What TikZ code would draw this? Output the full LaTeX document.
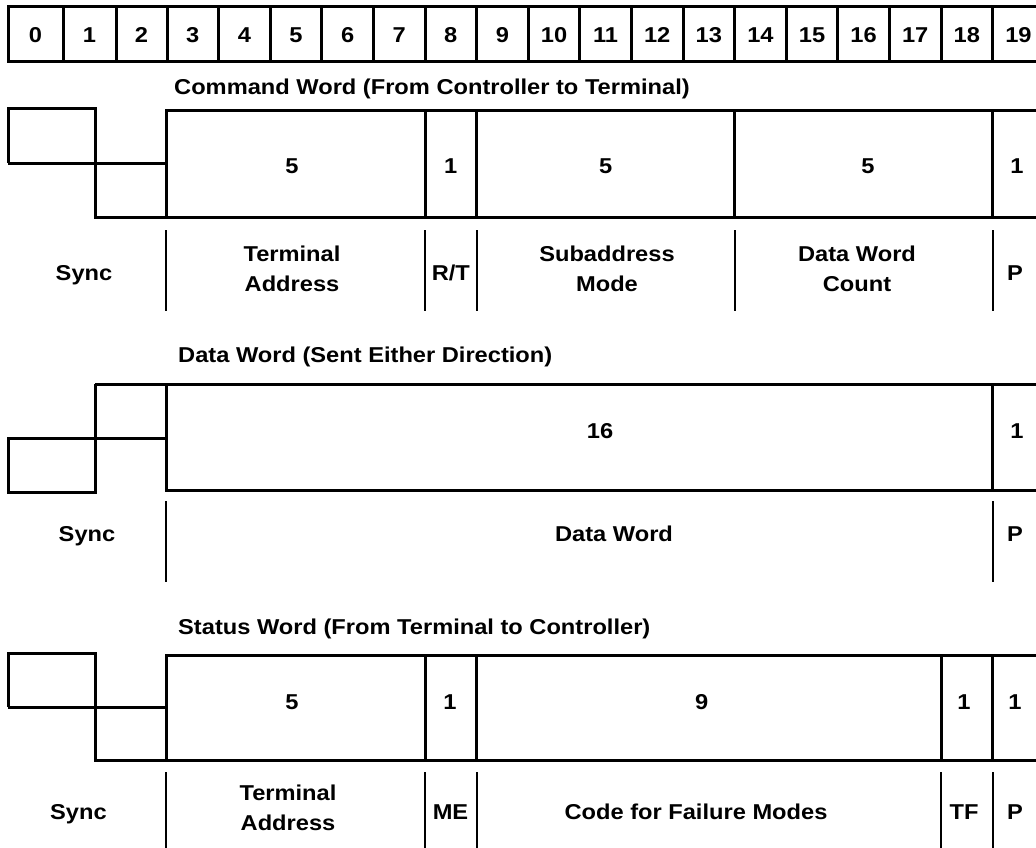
\documentclass[tikz,border=0pt]{standalone}
\usepackage{fontspec}
\newfontfamily\wordfont{Liberation Sans}[FakeStretch=1.1]
\usepackage{tikz}

\tikzstyle{cell} = [line width=3pt]
\tikzstyle{wave} = [line width=3pt]
\tikzstyle{sep} = [line width=2.2pt]
\tikzstyle{txt} = [inner sep=0pt, font=\wordfont\bfseries\fontsize{21.5}{30}\selectfont]
\tikzstyle{bit} = [txt, anchor=base]
\tikzstyle{title} = [txt, anchor=base west]
\tikzstyle{field} = [txt, anchor=center, align=center]

\begin{document}
\begin{tikzpicture}[x=1pt,y=-1pt]
\useasboundingbox (0,0) rectangle (1036,848);

% bit numbers
\draw [cell] (8,7) rectangle (1044,62);
\foreach \x in {63,116,167,218.6,270.2,321.8,373.4,425,476.6,528.2,579.8,631.4,683,734.6,786.2,837.8,889.4,941,992.6}
  \draw [cell] (\x,7) -- (\x,62);
\foreach \c [count=\n from 0] in {35.5,89.5,141.5,192.8,244.4,296,347.6,399.2,450.8,502.4,554,605.6,657.2,708.8,760.4,812,863.6,915.2,966.8,1018.4}
  \node (bit\n) [bit] at (\c,43) {\n};

% command word
\node (cmdtitle) [title] at (174,95) {Command Word (From Controller to Terminal)};
\draw [wave] (8,163) -- (8,109) -- (95,109) -- (95,217) -- (1044,217);
\draw [wave] (8,163) -- (166,163);
\draw [wave] (166,217) -- (166,111) -- (1044,111);
\foreach \x in {425,476.6,734.6,992.6}
  \draw [wave] (\x,111) -- (\x,217);
\foreach \x in {166,425,476.6,734.6,992.6}
  \draw [sep] (\x,230) -- (\x,311);
\node (cmdta) [bit] at (292,173) {5};
\node (cmdrt) [bit] at (450.8,173) {1};
\node (cmdsa) [bit] at (605.6,173) {5};
\node (cmdwc) [bit] at (868,173) {5};
\node (cmdp) [bit] at (1017,173) {1};
\node (cmdsynclbl) [bit] at (84,280) {Sync};
\node (cmdtalbl) [field] at (292,269) {Terminal\\Address};
\node (cmdrtlbl) [bit] at (450.8,280) {R/T};
\node (cmdsalbl) [field] at (607,269) {Subaddress\\Mode};
\node (cmdwclbl) [field] at (857,269) {Data Word\\Count};
\node (cmdplbl) [bit] at (1015,280) {P};

% data word
\node (dattitle) [title] at (178,362) {Data Word (Sent Either Direction)};
\draw [wave] (95,384) -- (1044,384);
\draw [wave] (95,384) -- (95,492) -- (8,492) -- (8,438) -- (166,438);
\draw [wave] (166,384) -- (166,490) -- (1044,490);
\draw [wave] (992.6,384) -- (992.6,490);
\foreach \x in {166,992.6}
  \draw [sep] (\x,501) -- (\x,582);
\node (datbits) [bit] at (600,438) {16};
\node (datp) [bit] at (1017,438) {1};
\node (datsynclbl) [bit] at (87,541) {Sync};
\node (datwordlbl) [bit] at (614,541) {Data Word};
\node (datplbl) [bit] at (1015,541) {P};

% status word
\node (stattitle) [title] at (178,634) {Status Word (From Terminal to Controller)};
\draw [wave] (8,707) -- (8,653) -- (95,653) -- (95,760) -- (1044,760);
\draw [wave] (8,707) -- (166,707);
\draw [wave] (166,760) -- (166,655) -- (1044,655);
\foreach \x in {425,476.6,941,992.6}
  \draw [wave] (\x,655) -- (\x,760);
\foreach \x in {166,425,476.6,941,992.6}
  \draw [sep] (\x,772) -- (\x,848);
\node (statta) [bit] at (292,709.5) {5};
\node (statme) [bit] at (450,709.5) {1};
\node (statcode) [bit] at (701.6,709.5) {9};
\node (stattf) [bit] at (964,709.5) {1};
\node (statp) [bit] at (1015,709.5) {1};
\node (statsynclbl) [bit] at (78.4,819) {Sync};
\node (stattalbl) [field] at (288,808) {Terminal\\Address};
\node (statmelbl) [bit] at (450.5,819) {ME};
\node (statcodelbl) [bit] at (696,819) {Code for Failure Modes};
\node (stattflbl) [bit] at (964,819) {TF};
\node (statplbl) [bit] at (1015,819) {P};

\end{tikzpicture}
\end{document}
